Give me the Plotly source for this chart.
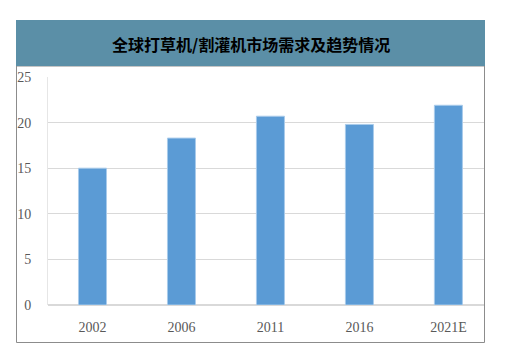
import plotly.graph_objects as go

categories = ["2002", "2006", "2011", "2016", "2021E"]
values = [15.0, 18.3, 20.7, 19.8, 21.9]
y_ticks = [0, 5, 10, 15, 20, 25]
title = "全球打草机/割灌机市场需求及趋势情况"

fig = go.Figure()
fig.add_trace(go.Bar(
    x=categories, y=values, width=0.315,
    marker=dict(color="#5B9BD5", line=dict(color="#A9CBEB", width=1)),
))

serif = "Liberation Serif, Times New Roman, serif"
fig.update_layout(
    width=525, height=351,
    margin=dict(l=48, r=41, t=77, b=46),
    paper_bgcolor="white", plot_bgcolor="white",
    showlegend=False,
    xaxis=dict(type="category", range=[-0.5, 4.4], showgrid=False, showline=False,
               ticks="", ticklabelstandoff=12,
               tickfont=dict(family=serif, size=14, color="#595959")),
    yaxis=dict(range=[0, 25], tickvals=y_ticks, showgrid=True, gridcolor="#D9D9D9",
               gridwidth=1, zeroline=True, zerolinecolor="#D9D9D9", showline=True,
               linecolor="#E6E6E6", ticks="", ticklabelstandoff=13,
               tickfont=dict(family=serif, size=14, color="#595959")),
    shapes=[
        dict(type="rect", xref="paper", yref="paper", layer="below",
             x0=(16.5 - 48) / 436, x1=(484.5 - 48) / 436,
             y0=(305 - 342.5) / 228, y1=(305 - 66) / 228,
             line=dict(color="#8C8C8C", width=1), fillcolor="rgba(0,0,0,0)"),
        dict(type="rect", xref="paper", yref="paper", layer="above",
             x0=(16 - 48) / 436, x1=(485 - 48) / 436,
             y0=(305 - 66) / 228, y1=(305 - 20) / 228,
             line=dict(width=0), fillcolor="#5B8FA7"),
    ],
    annotations=[dict(text="<b>" + title + "</b>", xref="paper", yref="paper",
                      x=(250.5 - 48) / 436, y=(305 - 44) / 228, showarrow=False,
                      xanchor="center", yanchor="middle",
                      font=dict(family="Noto Sans CJK SC", size=16, color="#000000"))],
)

fig.write_html("out.html")
